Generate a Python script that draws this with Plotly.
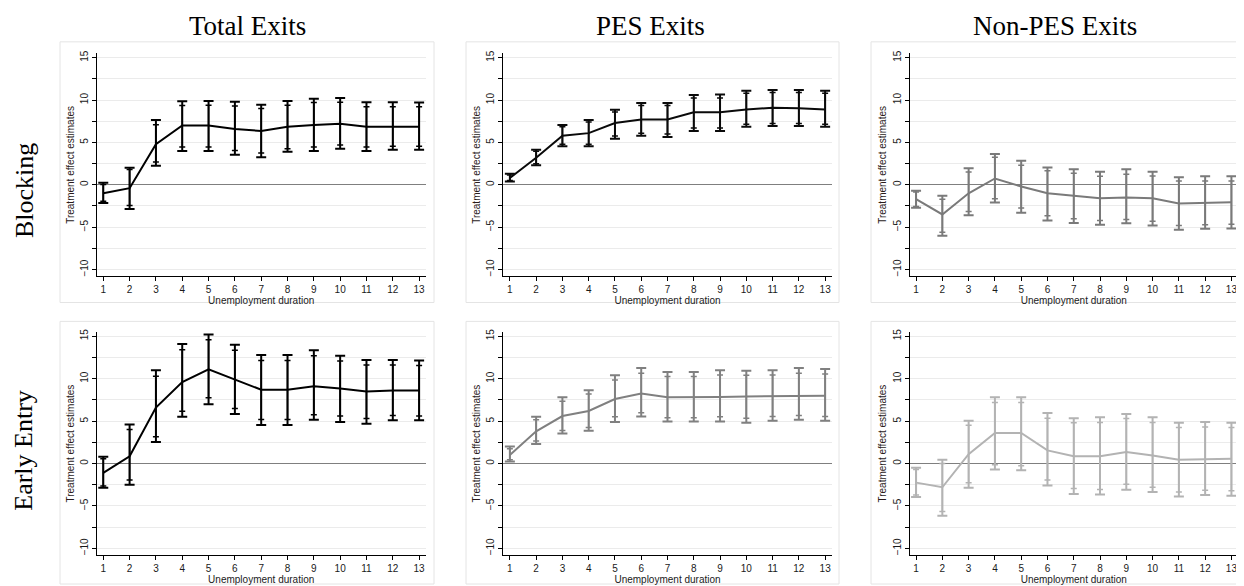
import plotly.graph_objects as go

durations = list(range(1, 14))
col_titles = ["Total Exits", "PES Exits", "Non-PES Exits"]
row_titles = ["Blocking", "Early Entry"]

# Blocking - Total Exits
blk_total_est = [-1.0, -0.4, 4.8, 7.0, 7.0, 6.6, 6.35, 6.85, 7.05, 7.2, 6.85, 6.85, 6.85]
blk_total_hi95 = [0.25, 2.0, 7.65, 9.85, 9.9, 9.8, 9.45, 9.9, 10.15, 10.25, 9.75, 9.75, 9.7]
blk_total_lo95 = [-2.15, -2.85, 2.25, 4.0, 4.0, 3.55, 3.25, 3.9, 4.0, 4.25, 4.0, 4.15, 4.15]
blk_total_hi90 = [0.05, 1.8, 7.1, 9.35, 9.4, 9.3, 9.0, 9.4, 9.7, 9.75, 9.2, 9.2, 9.2]
blk_total_lo90 = [-1.95, -2.45, 2.7, 4.45, 4.45, 4.05, 3.75, 4.25, 4.45, 4.7, 4.45, 4.55, 4.55]

# Blocking - PES Exits
blk_pes_est = [0.8, 3.2, 5.8, 6.1, 7.3, 7.7, 7.7, 8.55, 8.55, 8.9, 9.1, 9.05, 8.9]
blk_pes_hi95 = [1.3, 4.15, 7.05, 7.65, 8.85, 9.65, 9.65, 10.6, 10.65, 11.1, 11.2, 11.2, 11.1]
blk_pes_lo95 = [0.4, 2.3, 4.55, 4.55, 5.45, 5.8, 5.65, 6.35, 6.35, 6.85, 6.95, 6.95, 6.85]
blk_pes_hi90 = [1.15, 3.95, 6.85, 7.4, 8.6, 9.35, 9.35, 10.25, 10.25, 10.8, 10.9, 10.9, 10.8]
blk_pes_lo90 = [0.5, 2.5, 4.8, 4.8, 5.75, 6.1, 6.0, 6.7, 6.7, 7.15, 7.25, 7.25, 7.15]

# Blocking - Non-PES Exits
blk_non_est = [-1.7, -3.5, -1.0, 0.75, -0.2, -1.0, -1.3, -1.6, -1.5, -1.6, -2.2, -2.1, -2.05]
blk_non_hi95 = [-0.7, -1.3, 1.95, 3.65, 2.85, 2.05, 1.85, 1.55, 1.85, 1.55, 0.9, 1.0, 1.0]
blk_non_lo95 = [-2.7, -6.0, -3.6, -2.1, -3.3, -4.2, -4.5, -4.7, -4.55, -4.8, -5.3, -5.2, -5.15]
blk_non_hi90 = [-0.85, -1.7, 1.5, 3.25, 2.3, 1.65, 1.35, 1.0, 1.25, 1.05, 0.45, 0.45, 0.45]
blk_non_lo90 = [-2.55, -5.6, -3.15, -1.65, -2.75, -3.65, -4.0, -4.2, -4.1, -4.3, -4.8, -4.7, -4.65]

# Early Entry - Total Exits
ee_total_est = [-1.1, 0.85, 6.6, 9.6, 11.1, 9.9, 8.7, 8.7, 9.1, 8.85, 8.5, 8.6, 8.6]
ee_total_hi95 = [0.8, 4.6, 11.0, 14.1, 15.2, 14.0, 12.8, 12.8, 13.35, 12.7, 12.2, 12.2, 12.15]
ee_total_lo95 = [-2.85, -2.5, 2.55, 5.5, 7.0, 5.85, 4.55, 4.55, 5.15, 4.9, 4.7, 5.1, 5.1]
ee_total_hi90 = [0.55, 4.0, 10.3, 13.4, 14.6, 13.35, 12.15, 12.15, 12.7, 12.1, 11.6, 11.6, 11.55]
ee_total_lo90 = [-2.65, -1.95, 3.15, 6.15, 7.75, 6.5, 5.2, 5.2, 5.75, 5.6, 5.3, 5.65, 5.6]

# Early Entry - PES Exits
ee_pes_est = [1.0, 3.8, 5.6, 6.2, 7.6, 8.25, 7.8, 7.8, 7.85, 7.9, 7.95, 8.0, 8.0]
ee_pes_hi95 = [2.0, 5.5, 7.8, 8.65, 10.4, 11.25, 10.8, 10.8, 11.0, 10.95, 11.0, 11.25, 11.15]
ee_pes_lo95 = [0.25, 2.3, 3.55, 3.85, 4.9, 5.55, 4.95, 4.95, 4.95, 4.8, 5.05, 5.15, 5.05]
ee_pes_hi90 = [1.75, 5.15, 7.35, 8.2, 9.85, 10.65, 10.25, 10.25, 10.45, 10.4, 10.45, 10.65, 10.55]
ee_pes_lo90 = [0.45, 2.65, 3.9, 4.25, 5.5, 6.0, 5.4, 5.4, 5.5, 5.35, 5.55, 5.65, 5.55]

# Early Entry - Non-PES Exits
ee_non_est = [-2.25, -2.8, 1.1, 3.6, 3.6, 1.55, 0.85, 0.85, 1.35, 0.95, 0.45, 0.5, 0.55]
ee_non_hi95 = [-0.5, 0.45, 5.05, 7.8, 7.8, 5.95, 5.35, 5.45, 5.85, 5.45, 4.8, 4.9, 4.8]
ee_non_lo95 = [-3.95, -6.15, -2.85, -0.7, -0.8, -2.6, -3.6, -3.65, -3.1, -3.35, -3.9, -3.7, -3.8]
ee_non_hi90 = [-0.7, 0.0, 4.5, 7.2, 7.2, 5.35, 4.8, 4.85, 5.3, 4.85, 4.25, 4.3, 4.25]
ee_non_lo90 = [-3.7, -5.65, -2.25, -0.15, -0.25, -1.95, -2.95, -3.05, -2.45, -2.8, -3.35, -3.15, -3.2]

panels = [
    (blk_total_est, blk_total_lo95, blk_total_hi95, blk_total_lo90, blk_total_hi90, "#000000"),
    (blk_pes_est, blk_pes_lo95, blk_pes_hi95, blk_pes_lo90, blk_pes_hi90, "#0a0a0a"),
    (blk_non_est, blk_non_lo95, blk_non_hi95, blk_non_lo90, blk_non_hi90, "#7a7a7a"),
    (ee_total_est, ee_total_lo95, ee_total_hi95, ee_total_lo90, ee_total_hi90, "#000000"),
    (ee_pes_est, ee_pes_lo95, ee_pes_hi95, ee_pes_lo90, ee_pes_hi90, "#808080"),
    (ee_non_est, ee_non_lo95, ee_non_hi95, ee_non_lo90, ee_non_hi90, "#b3b3b3"),
]

# The page body has an 8px margin, so the figure is offset by 8px
OFF = 8
W, H = 1244 - OFF, 586 - OFF
col_px = [(96.7, 425.7), (503.3, 831.7), (909.5, 1238.0)]
row_px = [(50.7, 274.7), (330.7, 555.0)]
box_col_px = [(60, 434), (466, 839), (871, 1242)]
box_row_px = [(39, 301), (320, 584)]

def fx(px):
    return (px - OFF) / W

def fy(py):
    return 1 - (py - OFF) / H

fig = go.Figure()
layout_axes = {}
tickfont = dict(family="Liberation Sans, Arial, sans-serif", size=10, color="#1a1a1a")

for i, (est, lo95, hi95, lo90, hi90, col) in enumerate(panels):
    r, c = divmod(i, 3)
    sfx = "" if i == 0 else str(i + 1)
    xref, yref = "x" + sfx, "y" + sfx
    fig.add_trace(go.Scatter(
        x=durations, y=est, mode="lines", xaxis=xref, yaxis=yref,
        line=dict(color=col, width=2), showlegend=False, hoverinfo="skip",
        error_y=dict(type="data", symmetric=False,
                     array=[h - e for h, e in zip(hi95, est)],
                     arrayminus=[e - l for e, l in zip(est, lo95)],
                     color=col, thickness=2, width=5),
    ))
    fig.add_trace(go.Scatter(
        x=durations, y=est, mode="markers", xaxis=xref, yaxis=yref,
        marker=dict(size=1, color="rgba(0,0,0,0)"), showlegend=False, hoverinfo="skip",
        error_y=dict(type="data", symmetric=False,
                     array=[h - e for h, e in zip(hi90, est)],
                     arrayminus=[e - l for e, l in zip(est, lo90)],
                     color=col, thickness=1.5, width=3),
    ))
    x0, x1 = col_px[c]
    y0, y1 = row_px[r]
    layout_axes["xaxis" + sfx] = dict(
        domain=[fx(x0), fx(x1)], anchor=yref, range=[0.75, 13.25],
        tickmode="array", tickvals=durations, ticks="outside", ticklen=4,
        tickcolor="#000", showline=True, linecolor="#000", linewidth=1,
        showgrid=False, zeroline=False, tickfont=tickfont,
        title=dict(text="Unemployment duration", standoff=0,
                   font=dict(family="Liberation Sans, Arial, sans-serif", size=10, color="#1a1a1a")),
    )
    layout_axes["yaxis" + sfx] = dict(
        domain=[fy(y1), fy(y0)], anchor=xref, range=[-10.8, 15.5],
        tickmode="linear", tick0=-10, dtick=5, tickangle=-90,
        ticks="outside", ticklen=4, tickcolor="#000",
        showline=True, linecolor="#000", linewidth=1,
        showgrid=True, gridcolor="#ebebeb", gridwidth=1,
        minor=dict(dtick=2.5, tick0=0, showgrid=True, gridcolor="#ebebeb",
                   ticks="outside", ticklen=4, tickcolor="#000"),
        zeroline=True, zerolinecolor="#7f7f7f", zerolinewidth=1.2,
        tickfont=tickfont,
        title=dict(text="Treatment effect estimates", standoff=2,
                   font=dict(family="Liberation Sans, Arial, sans-serif", size=10, color="#2a1a1a")),
    )

shapes = []
for (by0, by1) in box_row_px:
    for (bx0, bx1) in box_col_px:
        shapes.append(dict(type="rect", xref="paper", yref="paper",
                           x0=fx(bx0), x1=fx(bx1), y0=fy(by1), y1=fy(by0),
                           line=dict(color="#e4e4e4", width=1), fillcolor="rgba(0,0,0,0)",
                           layer="below"))

annotations = []
title_x_px = [247.5, 650, 1055]
for t, xp in zip(col_titles, title_x_px):
    annotations.append(dict(text=t, xref="paper", yref="paper", x=fx(xp), y=fy(23),
                            xanchor="center", yanchor="middle", showarrow=False,
                            font=dict(family="Liberation Serif, Times New Roman, serif", size=27, color="#000")))
row_y_px = [189, 450]
for t, yp in zip(row_titles, row_y_px):
    annotations.append(dict(text=t, xref="paper", yref="paper", x=fx(24), y=fy(yp),
                            xanchor="center", yanchor="middle", showarrow=False, textangle=-90,
                            font=dict(family="Liberation Serif, Times New Roman, serif", size=26, color="#000")))

fig.update_layout(
    width=W, height=H, margin=dict(l=0, r=0, t=0, b=0),
    paper_bgcolor="white", plot_bgcolor="white",
    shapes=shapes, annotations=annotations, showlegend=False,
    **layout_axes,
)

fig.write_html("out.html")
